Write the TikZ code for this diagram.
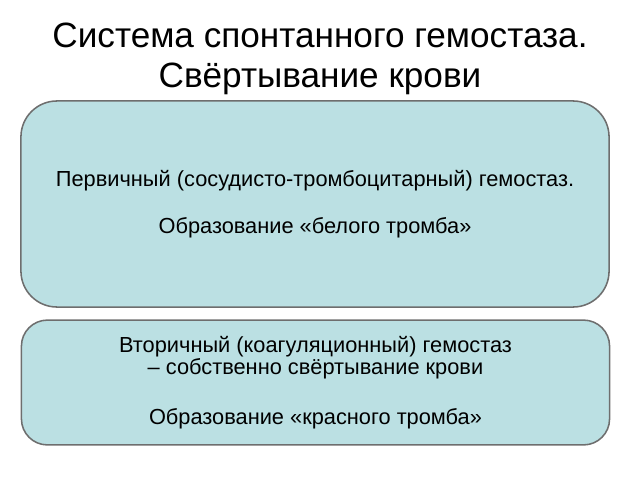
\documentclass[tikz,border=0pt]{standalone}
\usepackage{fontspec}
\setmainfont{Liberation Sans}
\definecolor{boxfill}{HTML}{BBE0E3}
\definecolor{boxline}{HTML}{6E6E6E}
\tikzset{
    stagebox/.style={draw=boxline, fill=boxfill, line width=1.1pt,
        align=center, font=\fontsize{15.5}{16}\selectfont, inner sep=0pt}
}
\begin{document}
\begin{tikzpicture}[x=0.025cm, y=-0.025cm]
    \useasboundingbox (0,0) rectangle (640,480);
    \node[align=center, font=\fontsize{25}{28.5}\selectfont] (title) at (320,59)
        {Система спонтанного гемостаза.\\Свёртывание крови};
    \node[stagebox, rounded corners=0.9cm, minimum width=14.7cm, minimum height=5.15cm]
        (primary) at (315,204)
        {Первичный (сосудисто-тромбоцитарный) гемостаз.\\[17pt]
         Образование «белого тромба»};
    \node[stagebox, rounded corners=0.65cm, minimum width=14.7cm, minimum height=3.12cm]
        (secondary) at (315.5,382.5)
        {Вторичный (коагуляционный) гемостаз\\
         -- собственно свёртывание крови\\[19pt]
         Образование «красного тромба»};
\end{tikzpicture}
\end{document}
